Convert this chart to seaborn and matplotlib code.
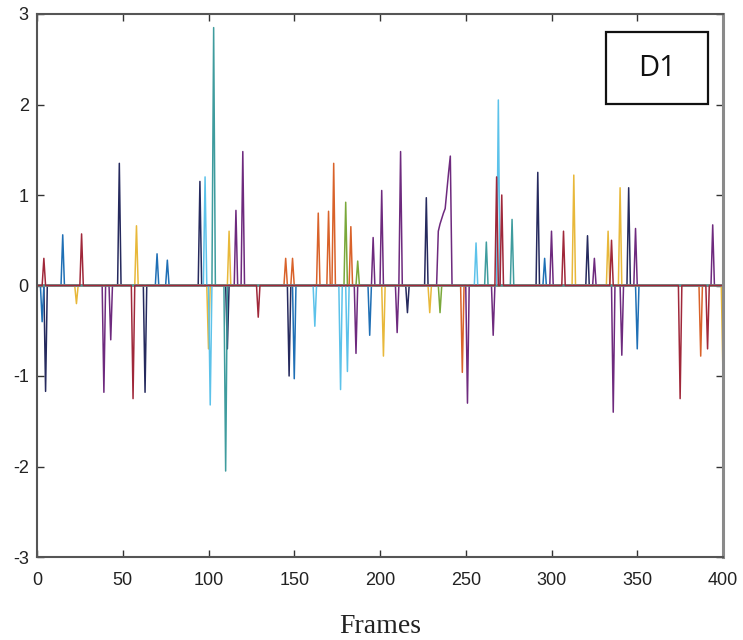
import numpy as np
import pandas as pd
import matplotlib
matplotlib.use("Agg")
import matplotlib.pyplot as plt
from matplotlib.patches import Rectangle
import seaborn as sns

# ---- data: spike events per series (frame: value), zero elsewhere ----
frames = list(range(0, 401))
series_names = ["navy", "blue", "orange", "yellow", "purple", "green", "cyan", "teal", "darkred"]
series_colors = ["#262a5e", "#1f6fb5", "#d9622a", "#e8b83a", "#6e2a7e", "#7aa83a", "#5cc2ea", "#3f9c9e", "#a0283a"]

navy_spikes = {5: -1.17, 48: 1.35, 63: -1.18, 95: 1.15, 147: -1.0, 216: -0.3, 227: 0.97,
               292: 1.25, 321: 0.55, 345: 1.08, 111: -0.7}
blue_spikes = {3: -0.4, 15: 0.56, 70: 0.35, 76: 0.28, 150: -1.03, 194: -0.55, 350: -0.7, 296: 0.3}
orange_spikes = {145: 0.3, 149: 0.3, 164: 0.8, 170: 0.82, 173: 1.35, 183: 0.65, 248: -0.96, 387: -0.78}
yellow_spikes = {23: -0.2, 58: 0.66, 100: -0.7, 112: 0.6, 202: -0.78, 229: -0.3, 313: 1.22,
                 333: 0.6, 340: 1.08, 400: -1.0}
purple_spikes = {39: -1.18, 43: -0.6, 116: 0.83, 120: 1.48, 186: -0.75, 196: 0.53, 201: 1.05,
                 210: -0.52, 212: 1.48, 234: 0.6, 235: 0.68, 236: 0.74, 237: 0.8, 238: 0.85,
                 239: 1.05, 240: 1.25, 241: 1.43, 251: -1.3, 266: -0.55, 300: 0.6, 325: 0.3,
                 336: -1.4, 341: -0.77, 349: 0.63, 394: 0.67}
green_spikes = {180: 0.92, 187: 0.27, 235: -0.3}
cyan_spikes = {98: 1.2, 101: -1.32, 162: -0.45, 177: -1.15, 181: -0.95, 256: 0.47, 269: 2.05}
teal_spikes = {103: 2.85, 110: -2.05, 262: 0.48, 277: 0.73}
darkred_spikes = {4: 0.3, 26: 0.57, 56: -1.25, 129: -0.35, 268: 1.2, 271: 1.0, 307: 0.6,
                  335: 0.5, 375: -1.25, 391: -0.7}

all_spikes = [navy_spikes, blue_spikes, orange_spikes, yellow_spikes, purple_spikes,
              green_spikes, cyan_spikes, teal_spikes, darkred_spikes]

x_ticks = [0, 50, 100, 150, 200, 250, 300, 350, 400]
y_ticks = [-3, -2, -1, 0, 1, 2, 3]

rows = []
for name, spikes in zip(series_names, all_spikes):
    for f in frames:
        rows.append({"Frames": f, "value": spikes.get(f, 0.0), "series": name})
df = pd.DataFrame(rows)

sns.set_style("white")
fig = plt.figure(figsize=(7.43, 6.40), dpi=100)
ax = fig.add_axes([37 / 743, 83 / 640, 686 / 743, 543 / 640])

sns.lineplot(data=df, x="Frames", y="value", hue="series", hue_order=series_names,
             palette=series_colors, estimator=None, linewidth=1.1, legend=False, ax=ax)

ax.set_xlim(0, 400)
ax.set_ylim(-3, 3)
ax.set_xticks(x_ticks)
ax.set_yticks(y_ticks)
ax.set_xticklabels([str(t) for t in x_ticks], fontsize=13, family="Liberation Sans")
ax.set_yticklabels([str(t) for t in y_ticks], fontsize=13, family="Liberation Sans")
ax.tick_params(axis="x", pad=11)
ax.tick_params(axis="y", pad=6)
ax.tick_params(direction="in", length=5, width=1, top=True, right=True, bottom=True, left=True,
               colors="#333333", labelcolor="#222222")
ax.set_xlabel("Frames", fontsize=20, family="Liberation Serif", color="#222222", labelpad=18)
ax.set_ylabel("")
for s in ax.spines.values():
    s.set_color("#555555")
    s.set_linewidth(1.5)
ax.spines["right"].set_color("#8a8a8a")
ax.spines["right"].set_linewidth(2.2)

ax.add_patch(Rectangle((0.829, 0.834), 0.149, 0.133, transform=ax.transAxes,
                       facecolor="white", edgecolor="#111111", linewidth=1.6, zorder=5))
ax.text(0.9035, 0.9, "D1", transform=ax.transAxes, fontsize=21, family="Open Sans",
        ha="center", va="center", color="#111111", zorder=6)
fig.savefig("out.png", dpi=100)
